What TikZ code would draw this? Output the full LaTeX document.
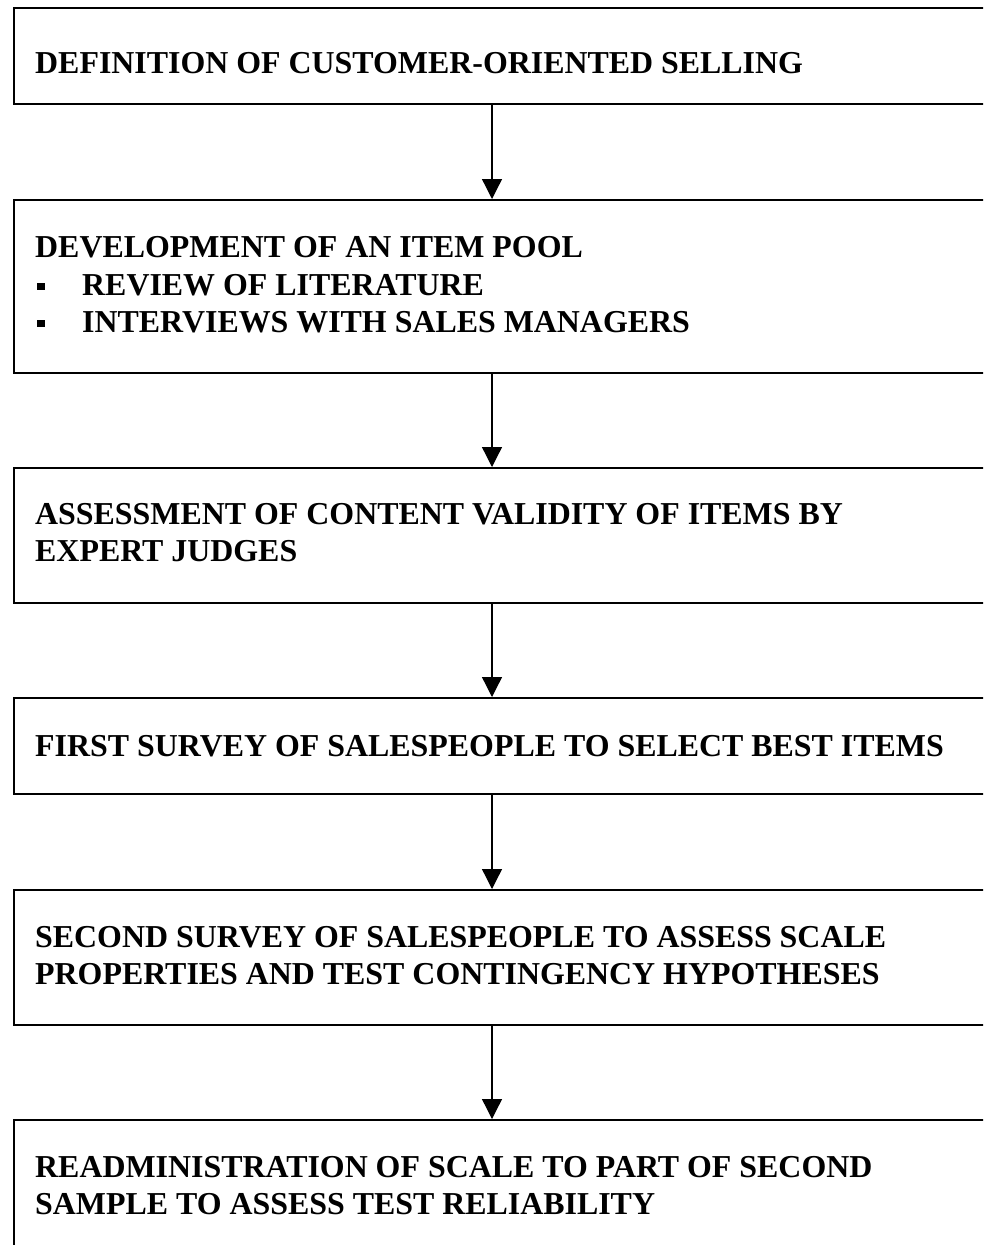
\documentclass[tikz,border=0pt]{standalone}
\usepackage{fontspec}
\setmainfont{Liberation Serif}
\usetikzlibrary{arrows.meta}
\begin{document}
\begin{tikzpicture}[x=1pt,y=-1pt,
  stagebox/.style={draw=black, line width=1.6pt, rectangle, inner sep=0pt, anchor=north west},
  lbl/.style={anchor=base west, inner sep=0pt, font=\fontsize{31.9}{37}\selectfont\bfseries},
  bul/.style={fill=black, rectangle, minimum size=7.5pt, inner sep=0pt},
  arr/.style={line width=1.3pt, -{Triangle[width=20pt,length=20pt]}}]
\useasboundingbox (0,0) rectangle (983,1245);
\clip (0,0) rectangle (983,1245);
\fill[white] (0,0) rectangle (983,1245);
\coordinate (ax) at (492,0);
% boxes
\node[stagebox, minimum width=990pt, minimum height=96pt]  (b1) at (13,7) {};
\node[stagebox, minimum width=990pt, minimum height=173pt] (b2) at (13,199) {};
\node[stagebox, minimum width=990pt, minimum height=135pt] (b3) at (13,467) {};
\node[stagebox, minimum width=990pt, minimum height=96pt]  (b4) at (13,697) {};
\node[stagebox, minimum width=990pt, minimum height=135pt] (b5) at (13,889) {};
\node[stagebox, minimum width=990pt, minimum height=160pt] (b6) at (13,1119) {};
% texts
\node[lbl] (t1) at (35,73) {DEFINITION OF CUSTOMER-ORIENTED SELLING};
\node[lbl] (t2a) at (35,257) {DEVELOPMENT OF AN ITEM POOL};
\node[bul] (u1) at (41,286.5) {};
\node[lbl] (t2b) at (82,295) {REVIEW OF LITERATURE};
\node[bul] (u2) at (41,323.5) {};
\node[lbl] (t2c) at (82,332) {INTERVIEWS WITH SALES MANAGERS};
\node[lbl] (t3a) at (35,524) {ASSESSMENT OF CONTENT VALIDITY OF ITEMS BY};
\node[lbl] (t3b) at (35,561) {EXPERT JUDGES};
\node[lbl] (t4) at (35,756) {FIRST SURVEY OF SALESPEOPLE TO SELECT BEST ITEMS};
\node[lbl] (t5a) at (35,947) {SECOND SURVEY OF SALESPEOPLE TO ASSESS SCALE};
\node[lbl] (t5b) at (35,984) {PROPERTIES AND TEST CONTINGENCY HYPOTHESES};
\node[lbl] (t6a) at (35,1177) {READMINISTRATION OF SCALE TO PART OF SECOND};
\node[lbl] (t6b) at (35,1214) {SAMPLE TO ASSESS TEST RELIABILITY};
% arrows
\draw[arr] (b1.south -| ax) -- (b2.north -| ax);
\draw[arr] (b2.south -| ax) -- (b3.north -| ax);
\draw[arr] (b3.south -| ax) -- (b4.north -| ax);
\draw[arr] (b4.south -| ax) -- (b5.north -| ax);
\draw[arr] (b5.south -| ax) -- (b6.north -| ax);
\end{tikzpicture}
\end{document}
